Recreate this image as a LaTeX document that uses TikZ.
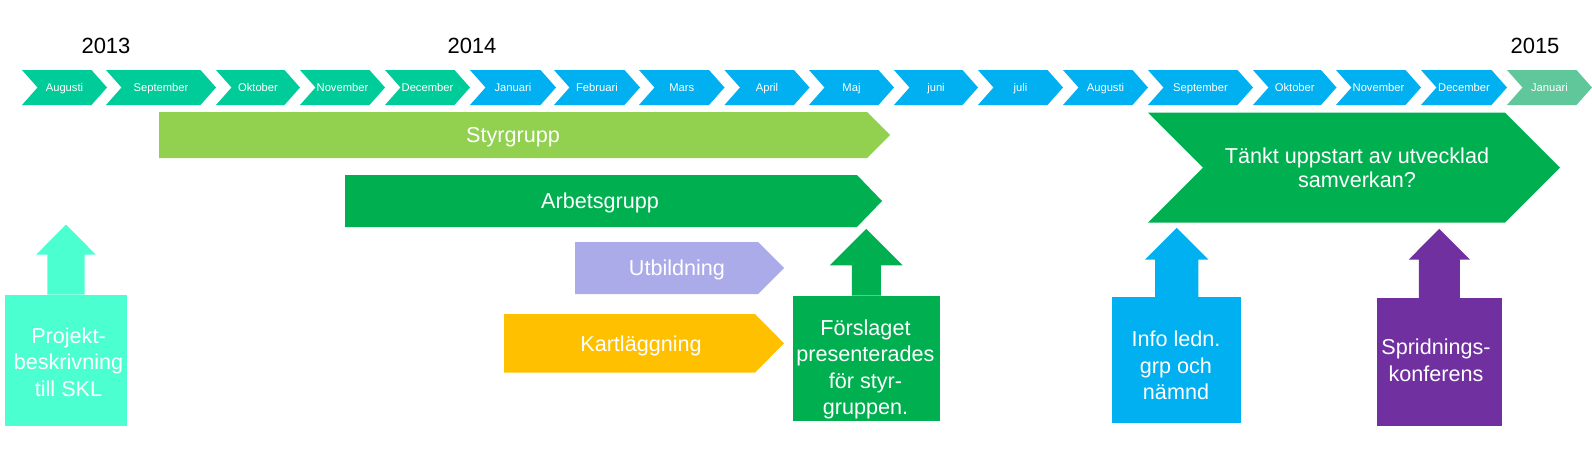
\documentclass[tikz,border=0pt]{standalone}
\usepackage{fontspec}
\setmainfont{Liberation Sans}
\usetikzlibrary{positioning}

\definecolor{mon13}{HTML}{00CC99}
\definecolor{mon14}{HTML}{00B0F0}
\definecolor{mon15}{HTML}{5FC79A}
\definecolor{styrcol}{HTML}{92D050}
\definecolor{arbcol}{HTML}{00B050}
\definecolor{utbcol}{HTML}{ACABEA}
\definecolor{kartcol}{HTML}{FFC000}
\definecolor{projcol}{HTML}{4BFFD1}
\definecolor{infocol}{HTML}{00B0F0}
\definecolor{spridcol}{HTML}{7030A0}

\begin{document}
\begin{tikzpicture}[
        x=0.5pt, y=-0.5pt, % one unit = one pixel, y runs downwards
        month/.style={anchor=base, text=white, inner sep=0pt, font=\fontsize{5.6}{6}\selectfont}, % month labels
        year/.style={anchor=base, text=black, inner sep=0pt, font=\fontsize{11}{13}\selectfont}, % year labels
        bartext/.style={anchor=base, text=white, inner sep=0pt, font=\fontsize{10.8}{13}\selectfont}, % text in the bars
        boxtext/.style={text=white, inner sep=0pt, align=center, font=\fontsize{10.8}{13.25}\selectfont}, % text in the boxes
        mbox/.style={rectangle, inner sep=0pt, draw=none} % milestone boxes
    ]
        \useasboundingbox (0,0) rectangle (1592,455);

        % Years
        \node[year] (y13) at (106,54) {2013};
        \node[year] (y14) at (472,54) {2014};
        \node[year] (y15) at (1535,54) {2015};

        % Month chevrons
        \foreach \x/\w/\m/\c [count=\i] in {22/85/Augusti/mon13, 106/110/September/mon13, 216/84/Oktober/mon13,
                300/85/November/mon13, 385/85/December/mon13, 470/86/Januari/mon14, 554/86/Februari/mon14,
                639/85.5/Mars/mon14, 724.5/85/April/mon14, 809/85/Maj/mon14, 894/84/juni/mon14, 978/85/juli/mon14,
                1063/85/Augusti/mon14, 1148/105/September/mon14, 1253/83.5/Oktober/mon14, 1336/85/November/mon14,
                1421/86/December/mon14, 1507/85/Januari/mon15} {
            \fill[\c] (\x,70) -- (\x+\w-15.5,70) -- (\x+\w,87.5) -- (\x+\w-15.5,105) -- (\x,105) -- (\x+15.5,87.5) -- cycle;
            \node[month] (m\i) at (\x+\w/2,91) {\m};
        }

        % Bars
        \fill[styrcol] (159,112) -- (867,112) -- (890,135) -- (867,158) -- (159,158) -- cycle;
        \node[bartext] (styr) at (513,142) {Styrgrupp};
        \fill[arbcol] (345,175) -- (857,175) -- (882,201) -- (857,227) -- (345,227) -- cycle;
        \node[bartext] (arb) at (600,208.5) {Arbetsgrupp};
        \fill[utbcol] (575,242) -- (758,242) -- (784,268) -- (758,294) -- (575,294) -- cycle;
        \node[bartext] (utb) at (677,275.5) {Utbildning};
        \fill[kartcol] (504,314) -- (755,314) -- (784,343.3) -- (755,372.7) -- (504,372.7) -- cycle;
        \node[bartext] (kart) at (641,351.5) {Kartläggning};

        % Big chevron on the right
        \fill[arbcol] (1148,112.7) -- (1505,112.7) -- (1560,167.7) -- (1505,222.7) -- (1148,222.7) -- (1203,167.7) -- cycle;
        \node[boxtext, font=\fontsize{10.8}{11.9}\selectfont] (tankt) at (1357,167.5) {Tänkt uppstart av utvecklad\\samverkan?};

        % Milestone boxes
        \node[mbox, fill=projcol, minimum width=61pt, minimum height=65.5pt] (pbox) at (66,360.5) {};
        \node[mbox, fill=arbcol, minimum width=73.65pt, minimum height=62.35pt] (fbox) at (866.3,358.3) {};
        \node[mbox, fill=infocol, minimum width=64.35pt, minimum height=63pt] (ibox) at (1176.7,360.3) {};
        \node[mbox, fill=spridcol, minimum width=62.35pt, minimum height=63.7pt] (sbox) at (1439.3,362) {};

        % Block arrows pointing up
        \fill[projcol] (pbox.north) ++(-18.6,0) -- ++(0,-40) -- ++(-11.2,0) -- ++(29.8,-30) -- ++(29.8,30) -- ++(-11.2,0) -- ++(0,40) -- cycle;
        \fill[arbcol] (fbox.north) ++(-14.5,0) -- ++(0,-30.3) -- ++(-21.85,0) -- ++(36.35,-36.4) -- ++(36.35,36.4) -- ++(-21.85,0) -- ++(0,30.3) -- cycle;
        \fill[infocol] (ibox.north) ++(-21.65,0) -- ++(0,-37.3) -- ++(-10,0) -- ++(31.65,-31.7) -- ++(31.65,31.7) -- ++(-10,0) -- ++(0,37.3) -- cycle;
        \fill[spridcol] (sbox.north) ++(-20.5,0) -- ++(0,-38.3) -- ++(-10.15,0) -- ++(30.65,-30.7) -- ++(30.65,30.7) -- ++(-10.15,0) -- ++(0,38.3) -- cycle;

        % Box texts
        \node[boxtext] (ptext) at (68.5,362) {Projekt-\\beskrivning\\till SKL};
        \node[boxtext] (ftext) at (865.5,369.5) {Förslaget\\presenterades\\för styr-\\gruppen.};
        \node[boxtext] (itext) at (1176,365.5) {Info ledn.\\grp och\\nämnd};
        \node[boxtext] (stext) at (1436,360.5) {Spridnings-\\konferens};

    \end{tikzpicture}
\end{document}
